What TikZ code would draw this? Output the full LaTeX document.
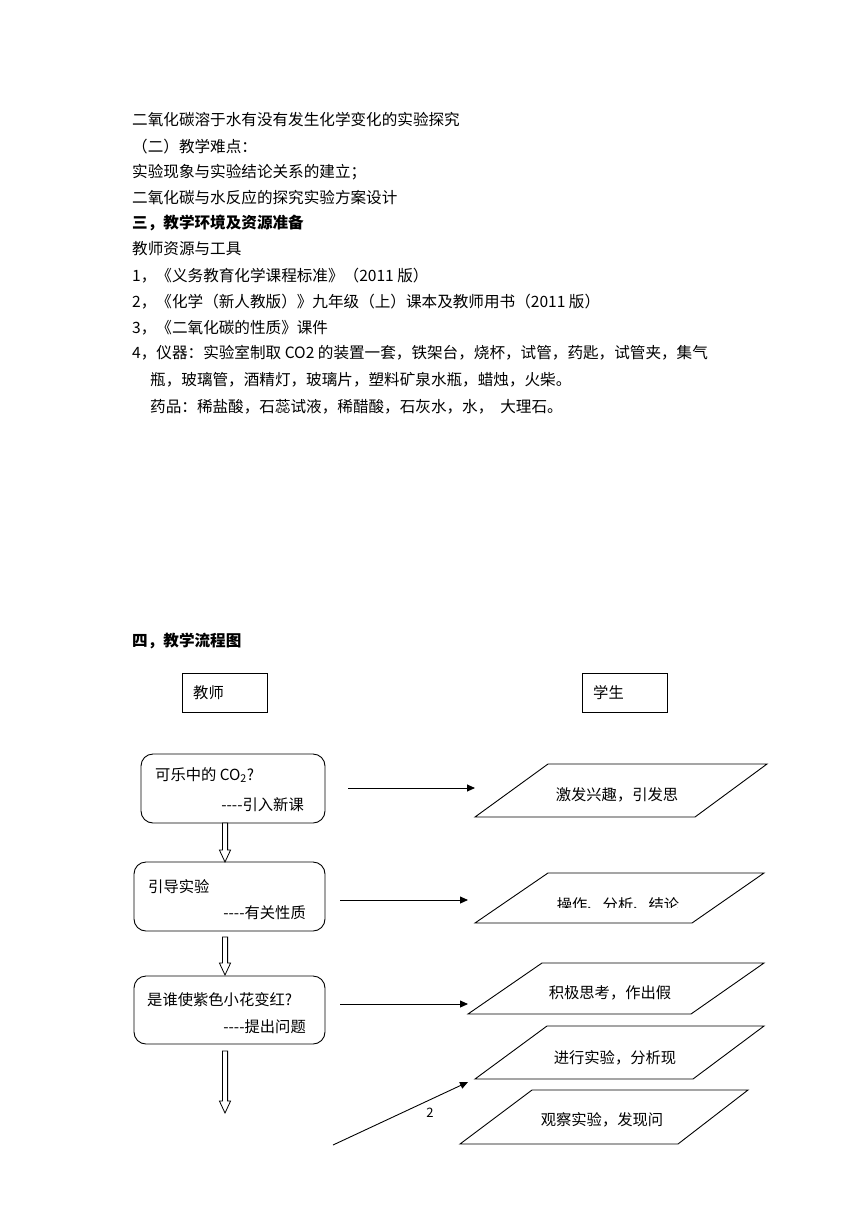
\documentclass[tikz,border=0pt]{standalone}
\usepackage{fontspec}
\setmainfont{Noto Sans CJK SC}
\usetikzlibrary{arrows.meta}
\tikzset{
  body/.style={anchor=west,inner sep=0pt,font=\fontsize{15.6}{18}\selectfont},
  bodyb/.style={body,font=\fontsize{15.6}{18}\selectfont\bfseries},
  ftext/.style={inner sep=0pt,font=\fontsize{15.3}{18}\selectfont},
  hdrbox/.style={draw,line width=0.9pt,minimum width=85pt,minimum height=39pt,inner sep=0pt},
  rbox/.style={draw,line width=0.9pt,rounded corners=12pt,inner sep=0pt},
  para/.style={draw,line width=0.9pt},
  conn/.style={line width=0.9pt,-{Triangle[length=8pt,width=7pt]}},
  hollow/.style={draw,line width=0.8pt,fill=white}
}
\newcommand{\hollowarrow}[3]{% x, top, bottom
  \path[hollow] (#1-2.6,#2) -- (#1+2.6,#2) -- (#1+2.6,#3-12) -- (#1+5.6,#3-12) -- (#1,#3) -- (#1-5.6,#3-12) -- (#1-2.6,#3-12) -- cycle;}
\newcommand{\parashape}[6]{% tlx trx ty blx brx by
  \path[para] (#1,#3) -- (#2,#3) -- (#5,#6) -- (#4,#6) -- cycle;}
\newcommand{\dashes}{{-}{-}{-}{-}}
\begin{document}
\begin{tikzpicture}[x=1pt,y=-1pt]
\useasboundingbox (0,0) rectangle (860,1216);
% ---- text section ----
\node[body] (l1) at (132,120) {二氧化碳溶于水有没有发生化学变化的实验探究};
\node[body] (l2) at (132,147) {（二）教学难点：};
\node[body] (l3) at (132,172) {实验现象与实验结论关系的建立；};
\node[body] (l4) at (132,198) {二氧化碳与水反应的探究实验方案设计};
\node[bodyb] (l5) at (132,223) {三，教学环境及资源准备};
\node[body] (l6) at (132,249) {教师资源与工具};
\node[body] (l7) at (132,276) {1，《义务教育化学课程标准》（2011 版）};
\node[body] (l8) at (132,302) {2，《化学（新人教版）》九年级（上）课本及教师用书（2011 版）};
\node[body] (l9) at (132,328) {3，《二氧化碳的性质》课件};
\node[body] (l10) at (132,353) {4，仪器：实验室制取 CO2 的装置一套，铁架台，烧杯，试管，药匙，试管夹，集气};
\node[body] (l11) at (150,380) {瓶，玻璃管，酒精灯，玻璃片，塑料矿泉水瓶，蜡烛，火柴。};
\node[body] (l12) at (150,407) {药品：稀盐酸，石蕊试液，稀醋酸，石灰水，水，\ \ 大理石。};
\node[bodyb] (l13) at (132,641) {四，教学流程图};
% ---- headers ----
\node[hdrbox] (teacher) at (224.5,692.5) {};
\node[ftext,anchor=west] (teachert) at (193,693) {教师};
\node[hdrbox] (student) at (624.5,692.5) {};
\node[ftext,anchor=west] (studentt) at (593,693) {学生};
% ---- teacher boxes ----
\node[rbox,minimum width=184pt,minimum height=69pt] (b1) at (233,788.5) {};
\node[ftext,anchor=west] (b1a) at (155,775) {可乐中的 CO\textsubscript{2}?};
\node[ftext,anchor=east] (b1b) at (304,805) {\dashes 引入新课};
\node[rbox,minimum width=191pt,minimum height=69pt] (b2) at (229.5,896.5) {};
\node[ftext,anchor=west] (b2a) at (148,887) {引导实验};
\node[ftext,anchor=east] (b2b) at (306,913) {\dashes 有关性质};
\node[rbox,minimum width=191pt,minimum height=68pt] (b3) at (229.5,1010) {};
\node[ftext,anchor=west] (b3a) at (147,1000) {是谁使紫色小花变红?};
\node[ftext,anchor=east] (b3b) at (306,1027) {\dashes 提出问题};
% ---- hollow arrows ----
\hollowarrow{225}{823}{862}
\hollowarrow{225}{937}{975}
\hollowarrow{225}{1051}{1113}
% ---- student parallelograms ----
\parashape{548}{767}{764}{475}{695}{817}
\node[ftext] (p1) at (617,795) {激发兴趣，引发思};
\parashape{548}{764}{873}{475}{692}{923}
\begin{scope}
\clip (500,880) rectangle (740,907);
\node[ftext] (p2) at (618,905) {操作、分析、结论};
\end{scope}
\parashape{542}{764}{963}{468}{691}{1014}
\node[ftext] (p3) at (610,993) {积极思考，作出假};
\parashape{547}{764}{1026}{475}{693}{1079}
\node[ftext] (p4) at (615,1058) {进行实验，分析现};
\parashape{532}{748}{1090}{460}{678}{1144}
\node[ftext] (p5) at (602,1120) {观察实验，发现问};
% ---- connectors ----
\coordinate (a1s) at (348,788); \coordinate (a1e) at (475,788);
\coordinate (a2s) at (340,900); \coordinate (a2e) at (468,900);
\coordinate (a3s) at (340,1004); \coordinate (a3e) at (468,1004);
\coordinate (a4s) at (333,1145); \coordinate (a4e) at (468,1082);
\draw[conn] (a1s) -- (a1e);
\draw[conn] (a2s) -- (a2e);
\draw[conn] (a3s) -- (a3e);
\draw[conn] (a4s) -- (a4e);
\node[ftext,font=\fontsize{13}{15}\selectfont] (pg) at (430,1113) {2};
\end{tikzpicture}
\end{document}
